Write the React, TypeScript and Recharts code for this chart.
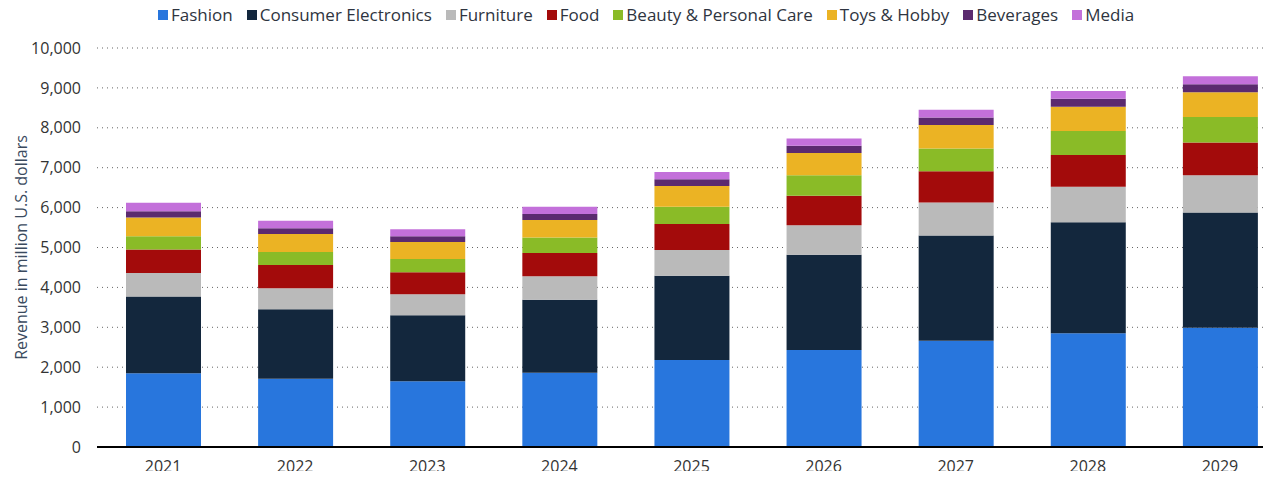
import { BarChart, Bar, XAxis, YAxis, CartesianGrid } from "recharts";

const years = ["2021", "2022", "2023", "2024", "2025", "2026", "2027", "2028", "2029"];

const fashion = [1850, 1710, 1650, 1860, 2180, 2430, 2660, 2850, 2990];
const electronics = [1920, 1740, 1650, 1830, 2110, 2390, 2640, 2780, 2890];
const furniture = [590, 530, 530, 590, 650, 740, 830, 890, 930];
const food = [590, 580, 550, 580, 650, 740, 780, 800, 820];
const beauty = [330, 330, 330, 390, 430, 510, 570, 600, 640];
const toys = [470, 450, 430, 440, 520, 560, 590, 610, 620];
const beverages = [160, 140, 140, 150, 170, 180, 190, 200, 200];
const media = [210, 190, 180, 180, 180, 180, 190, 190, 200];

const yTicks = [0, 1000, 2000, 3000, 4000, 5000, 6000, 7000, 8000, 9000, 10000];

const series = [
  { key: "fashion", name: "Fashion", color: "#2876dd", values: fashion },
  { key: "electronics", name: "Consumer Electronics", color: "#13273d", values: electronics },
  { key: "furniture", name: "Furniture", color: "#bababa", values: furniture },
  { key: "food", name: "Food", color: "#a30b0b", values: food },
  { key: "beauty", name: "Beauty & Personal Care", color: "#8abb27", values: beauty },
  { key: "toys", name: "Toys & Hobby", color: "#ebb324", values: toys },
  { key: "beverages", name: "Beverages", color: "#5b2a6f", values: beverages },
  { key: "media", name: "Media", color: "#c370da", values: media },
];

const data = years.map((year, i) => {
  const row: Record<string, string | number> = { year };
  series.forEach((s) => {
    row[s.key] = s.values[i];
  });
  return row;
});

const font = "'Open Sans', sans-serif";

export default function App() {
  return (
    <div
      style={{
        margin: -8,
        width: 1271,
        height: 479,
        overflow: "hidden",
        position: "relative",
        background: "#fff",
        fontFamily: font,
      }}
    >
      {/* legend sits off-centre in the original, so it's plain html */}
      <div
        style={{
          position: "absolute",
          top: 3,
          left: 158,
          display: "flex",
          alignItems: "center",
          fontSize: 17,
          color: "#2e3440",
          whiteSpace: "nowrap",
          zIndex: 2,
        }}
      >
        {series.map((s) => (
          <div key={s.key} style={{ display: "flex", alignItems: "center", marginRight: 14 }}>
            <span
              style={{
                display: "inline-block",
                width: 10,
                height: 10,
                background: s.color,
                marginRight: 3,
              }}
            />
            <span>{s.name}</span>
          </div>
        ))}
      </div>

      <BarChart
        width={1300}
        height={479}
        data={data}
        margin={{ top: 48, right: 14, bottom: 0, left: 0 }}
      >
        <CartesianGrid vertical={false} stroke="#666" strokeDasharray="1 4" />
        <XAxis
          dataKey="year"
          height={32}
          tickSize={0}
          tickMargin={14}
          tickLine={false}
          axisLine={{ stroke: "#000", strokeWidth: 2 }}
          tick={{ fill: "#333", fontSize: 16, fontFamily: font }}
        />
        <YAxis
          width={97}
          domain={[0, 10000]}
          ticks={yTicks}
          tickFormatter={(v: number) => v.toLocaleString("en-US")}
          tickSize={0}
          tickMargin={16}
          tickLine={false}
          axisLine={false}
          tick={{ fill: "#333", fontSize: 16, fontFamily: font }}
          label={{
            content: (props: any) => {
              const vb = props.viewBox || {};
              const cy = (vb.y || 48) + (vb.height || 399) / 2;
              return (
                <text
                  x={27}
                  y={cy}
                  transform={`rotate(-90, 27, ${cy})`}
                  textAnchor="middle"
                  fill="#3a4a5e"
                  fontSize={16}
                  fontFamily={font}
                >
                  Revenue in million U.S. dollars
                </text>
              );
            },
          }}
        />
        {series.map((s) => (
          <Bar
            key={s.key}
            dataKey={s.key}
            name={s.name}
            stackId="a"
            fill={s.color}
            barSize={75}
            isAnimationActive={false}
          />
        ))}
      </BarChart>
    </div>
  );
}
